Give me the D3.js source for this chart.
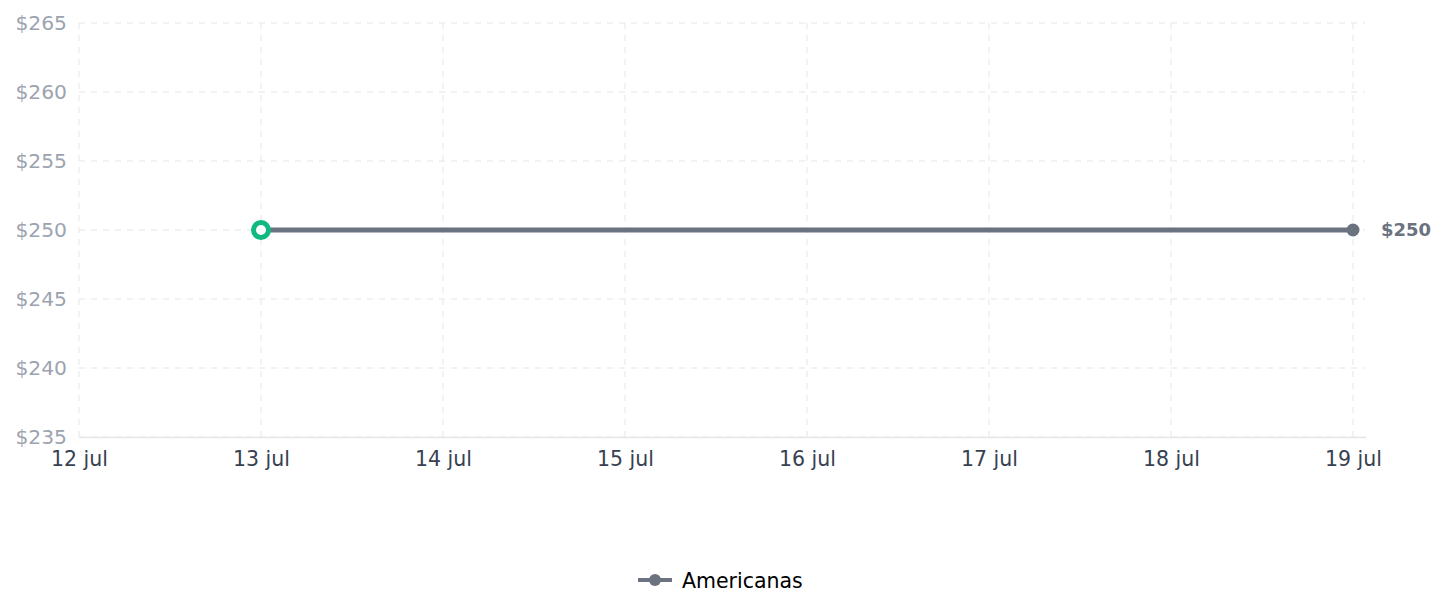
<!DOCTYPE html>
<html>
<head>
<meta charset="utf-8">
<script src="https://cdn.jsdelivr.net/npm/d3@7"></script>
<style>
  body { margin: 0; background: #fff; font-family: "DejaVu Sans", sans-serif; }
  #chart svg { display: block; }
</style>
</head>
<body>
<div id="chart"></div>
<script>
// dados do gráfico
const dias = ["12 jul", "13 jul", "14 jul", "15 jul", "16 jul", "17 jul", "18 jul", "19 jul"];
const serieDias = ["13 jul", "14 jul", "15 jul", "16 jul", "17 jul", "18 jul", "19 jul"];
const precosAmericanas = [250, 250, 250, 250, 250, 250, 250];
const yTicks = [235, 240, 245, 250, 255, 260, 265];
const nomeSerie = "Americanas";

const width = 1447, height = 615;
const margin = { left: 79, top: 23, bottom: 437 };

const svg = d3.select("#chart").append("svg")
    .attr("width", width)
    .attr("height", height);

// escalas
const x = d3.scalePoint().domain(dias).range([79, 1353]);
const y = d3.scaleLinear().domain([235, 265]).range([437, 23]);
const gridRight = 1365;

// grade horizontal
svg.append("g")
    .selectAll("line")
    .data(yTicks)
    .join("line")
    .attr("x1", margin.left).attr("x2", gridRight)
    .attr("y1", d => y(d)).attr("y2", d => y(d))
    .attr("stroke", "#eeeeee")
    .attr("stroke-width", 1.5)
    .attr("stroke-dasharray", "6,6");

// grade vertical
svg.append("g")
    .selectAll("line")
    .data(dias)
    .join("line")
    .attr("x1", d => x(d)).attr("x2", d => x(d))
    .attr("y1", margin.top).attr("y2", margin.bottom)
    .attr("stroke", "#eeeeee")
    .attr("stroke-width", 1.5)
    .attr("stroke-dasharray", "6,6");

// linha do eixo x
svg.append("line")
    .attr("x1", margin.left).attr("x2", gridRight + 1)
    .attr("y1", margin.bottom + 0.5).attr("y2", margin.bottom + 0.5)
    .attr("stroke", "#e5e7eb")
    .attr("stroke-width", 1.5);

// rótulos eixo y
const yAxis = svg.append("g")
    .attr("transform", `translate(${margin.left - 12},0)`)
    .call(d3.axisLeft(y).tickValues(yTicks).tickSize(0).tickFormat(d => "$" + d));
yAxis.select(".domain").remove();
yAxis.selectAll("text")
    .attr("fill", "#9ca3af")
    .attr("font-size", 20.3)
    .attr("font-family", "DejaVu Sans, sans-serif")
    .attr("x", 0);

// rótulos eixo x
const xAxis = svg.append("g")
    .attr("transform", `translate(0,${margin.bottom})`)
    .call(d3.axisBottom(x).tickSize(0));
xAxis.select(".domain").remove();
xAxis.selectAll("text")
    .attr("fill", "#374151")
    .attr("font-size", 20.5)
    .attr("font-family", "DejaVu Sans, sans-serif")
    .attr("dy", 0)
    .attr("y", 29);

// linha da série
const pontos = serieDias.map((d, i) => ({ dia: d, valor: precosAmericanas[i] }));
const linha = d3.line().x(d => x(d.dia)).y(d => y(d.valor));

svg.append("path")
    .datum(pontos)
    .attr("d", linha)
    .attr("fill", "none")
    .attr("stroke", "#6b7280")
    .attr("stroke-width", 5);

// ponto final
const ultimo = pontos[pontos.length - 1];
svg.append("circle")
    .attr("cx", x(ultimo.dia)).attr("cy", y(ultimo.valor))
    .attr("r", 6.5)
    .attr("fill", "#6b7280");

svg.append("text")
    .attr("x", x(ultimo.dia) + 28)
    .attr("y", y(ultimo.valor) + 6)
    .attr("fill", "#6b7280")
    .attr("font-size", 18)
    .attr("font-weight", "bold")
    .text("$" + ultimo.valor);

// ponto inicial destacado (verde)
const primeiro = pontos[0];
svg.append("circle")
    .attr("cx", x(primeiro.dia)).attr("cy", y(primeiro.valor))
    .attr("r", 7.5)
    .attr("fill", "#fff")
    .attr("stroke", "#10b981")
    .attr("stroke-width", 5);

// legenda
const leg = svg.append("g").attr("transform", "translate(638,580)");
leg.append("line")
    .attr("x1", 0).attr("x2", 34)
    .attr("stroke", "#6b7280")
    .attr("stroke-width", 4);
leg.append("circle")
    .attr("cx", 17).attr("r", 6)
    .attr("fill", "#6b7280");
leg.append("text")
    .attr("x", 44).attr("y", 7.5)
    .attr("fill", "#000")
    .attr("font-size", 20.5)
    .text(nomeSerie);
</script>
</body>
</html>
